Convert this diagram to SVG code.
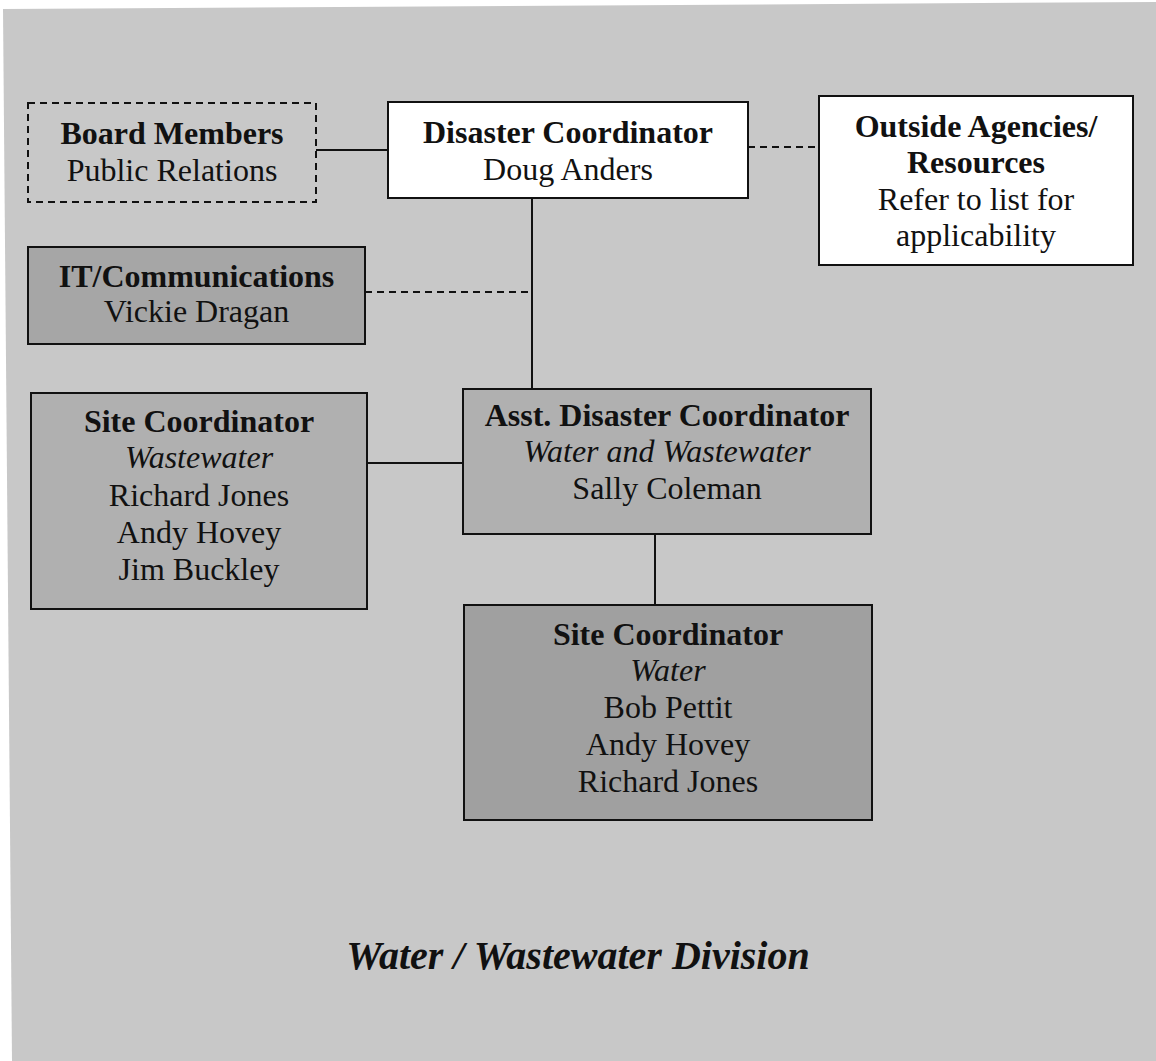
<svg xmlns="http://www.w3.org/2000/svg" width="1156" height="1061" viewBox="0 0 1156 1061">
<style>
text{font-family:"Liberation Serif","Times New Roman",serif;font-size:32px;fill:#111;text-anchor:middle}
.b{font-weight:bold}
.i{font-style:italic}
.box{stroke:#111;stroke-width:2}
.white{fill:#fff}
.mid{fill:#b0b0b0}
.dark{fill:#a6a6a6}
.darker{fill:#a0a0a0}
.line{stroke:#111;stroke-width:2;fill:none}
.dash{stroke-dasharray:7 5}
</style>
<rect x="0" y="0" width="1156" height="1061" fill="#fff"/>
<polygon points="3,9 1156,2 1156,1061 12,1061" fill="#c8c8c8"/>
<g id="connectors">
<line class="line" x1="316" y1="150" x2="388" y2="150"/>
<line class="line dash" x1="748" y1="147" x2="819" y2="147"/>
<line class="line dash" x1="365" y1="292" x2="532" y2="292"/>
<line class="line" x1="532" y1="198" x2="532" y2="389"/>
<line class="line" x1="367" y1="463" x2="463" y2="463"/>
<line class="line" x1="655" y1="534" x2="655" y2="605"/>
</g>
<g id="board">
<rect x="28" y="103" width="288" height="99" fill="none" class="box dash"/>
<text x="172" y="144" class="b">Board Members</text>
<text x="172" y="181">Public Relations</text>
</g>
<g id="disaster-coordinator">
<rect x="388" y="102" width="360" height="96" class="box white"/>
<text x="568" y="143" class="b">Disaster Coordinator</text>
<text x="568" y="180">Doug Anders</text>
</g>
<g id="outside-agencies">
<rect x="819" y="96" width="314" height="169" class="box white"/>
<text x="976" y="137" class="b">Outside Agencies/</text>
<text x="976" y="173" class="b">Resources</text>
<text x="976" y="210">Refer to list for</text>
<text x="976" y="246">applicability</text>
</g>
<g id="it-communications">
<rect x="28" y="247" width="337" height="97" class="box dark"/>
<text x="196.5" y="287" class="b">IT/Communications</text>
<text x="196.5" y="322">Vickie Dragan</text>
</g>
<g id="site-coordinator-wastewater">
<rect x="31" y="393" width="336" height="216" class="box mid"/>
<text x="199" y="432" class="b">Site Coordinator</text>
<text x="199" y="468" class="i">Wastewater</text>
<text x="199" y="506">Richard Jones</text>
<text x="199" y="543">Andy Hovey</text>
<text x="199" y="580">Jim Buckley</text>
</g>
<g id="asst-disaster-coordinator">
<rect x="463" y="389" width="408" height="145" class="box mid"/>
<text x="667" y="426" class="b">Asst. Disaster Coordinator</text>
<text x="667" y="462" class="i">Water and Wastewater</text>
<text x="667" y="499">Sally Coleman</text>
</g>
<g id="site-coordinator-water">
<rect x="464" y="605" width="408" height="215" class="box darker"/>
<text x="668" y="645" class="b">Site Coordinator</text>
<text x="668" y="681" class="i">Water</text>
<text x="668" y="718">Bob Pettit</text>
<text x="668" y="755">Andy Hovey</text>
<text x="668" y="792">Richard Jones</text>
</g>
<text x="578" y="969" class="b i" style="font-size:40px">Water / Wastewater Division</text>
</svg>
